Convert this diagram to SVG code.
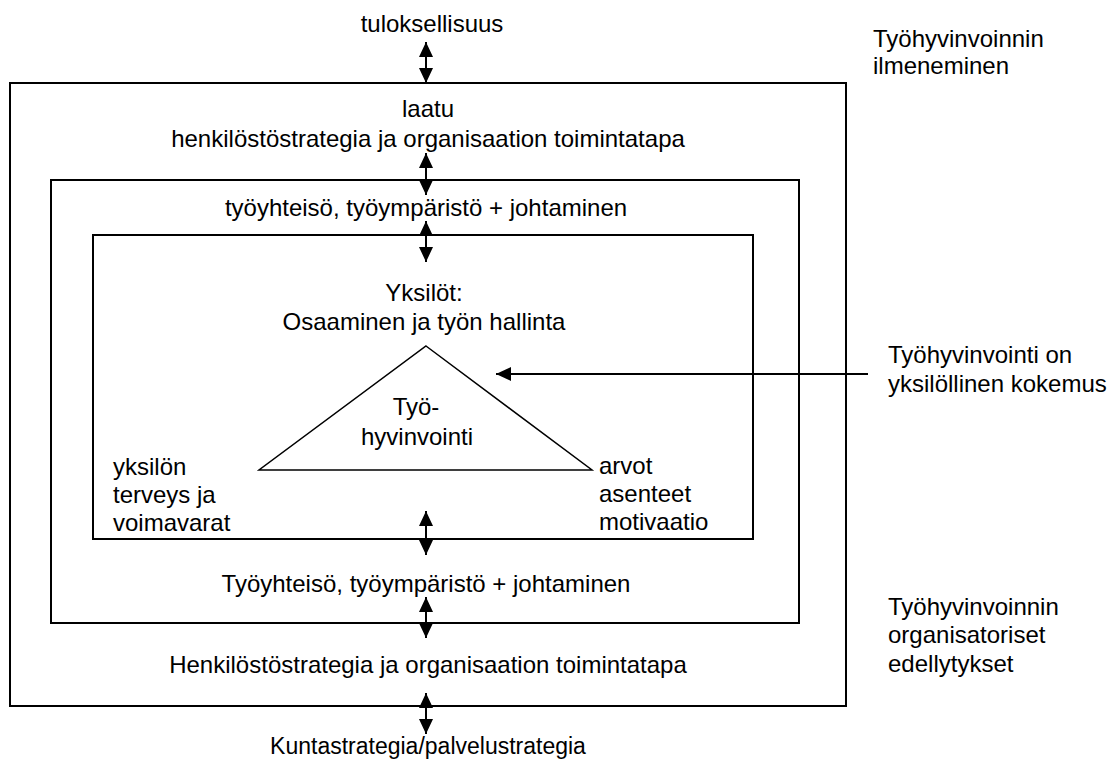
<svg xmlns="http://www.w3.org/2000/svg" width="1115" height="771" viewBox="0 0 1115 771">
<style>
text{font-family:"Liberation Sans",Arial,sans-serif;font-size:24px;fill:#000}
.c{text-anchor:middle}
.box{fill:none;stroke:#000;stroke-width:2}
.arr{stroke:#000;stroke-width:2;fill:none}
</style>
<defs>
<marker id="ah" viewBox="0 0 15 14" refX="15" refY="7" markerWidth="15" markerHeight="14" markerUnits="userSpaceOnUse" orient="auto-start-reverse">
<path d="M0,0 L15,7 L0,14 Z" fill="#000"/>
</marker>
</defs>
<rect width="1115" height="771" fill="#fff"/>
<g id="outer"><rect class="box" x="10" y="83" width="836" height="623"/>
<text class="c" x="428" y="117">laatu</text>
<text class="c" x="428" y="147">henkilöstöstrategia ja organisaation toimintatapa</text>
<text class="c" x="428" y="673">Henkilöstöstrategia ja organisaation toimintatapa</text></g>
<g id="middle"><rect class="box" x="51" y="180" width="748" height="443"/>
<text class="c" x="426" y="216">työyhteisö, työympäristö + johtaminen</text>
<text class="c" x="426" y="592">Työyhteisö, työympäristö + johtaminen</text></g>
<g id="inner"><rect class="box" x="93" y="235" width="660" height="304"/>
<text class="c" x="424" y="301">Yksilöt:</text>
<text class="c" x="424" y="330">Osaaminen ja työn hallinta</text>
<text x="113" y="475">yksilön</text>
<text x="113" y="503">terveys ja</text>
<text x="113" y="531">voimavarat</text>
<text x="599" y="474">arvot</text>
<text x="599" y="502">asenteet</text>
<text x="599" y="530">motivaatio</text></g>
<g id="triangle"><path d="M426,346 L592,470 L259,470 Z" fill="none" stroke="#000" stroke-width="1.5"/>
<text class="c" x="416" y="415">Työ-</text>
<text class="c" x="417" y="445">hyvinvointi</text></g>
<g id="top"><text class="c" x="432" y="32">tuloksellisuus</text></g>
<g id="bottom"><text class="c" x="428" y="754" style="font-size:23px">Kuntastrategia/palvelustrategia</text></g>
<g id="label-ilmeneminen"><text x="873" y="47">Työhyvinvoinnin</text><text x="873" y="74">ilmeneminen</text></g>
<g id="label-kokemus"><text x="888" y="363">Työhyvinvointi on</text><text x="888" y="392">yksilöllinen kokemus</text></g>
<g id="label-edellytykset"><text x="888" y="615">Työhyvinvoinnin</text><text x="888" y="643">organisatoriset</text><text x="888" y="672">edellytykset</text></g>
<g id="connectors">
<line class="arr" x1="426" y1="42" x2="426" y2="83" marker-start="url(#ah)" marker-end="url(#ah)"/>
<line class="arr" x1="426" y1="153" x2="426" y2="195" marker-start="url(#ah)" marker-end="url(#ah)"/>
<line class="arr" x1="426" y1="221" x2="426" y2="262" marker-start="url(#ah)" marker-end="url(#ah)"/>
<line class="arr" x1="426" y1="511" x2="426" y2="555" marker-start="url(#ah)" marker-end="url(#ah)"/>
<line class="arr" x1="426" y1="597" x2="426" y2="638" marker-start="url(#ah)" marker-end="url(#ah)"/>
<line class="arr" x1="426" y1="693" x2="426" y2="734" marker-start="url(#ah)" marker-end="url(#ah)"/>
<line class="arr" x1="868" y1="374" x2="496" y2="374" marker-end="url(#ah)"/>
</g>
</svg>
